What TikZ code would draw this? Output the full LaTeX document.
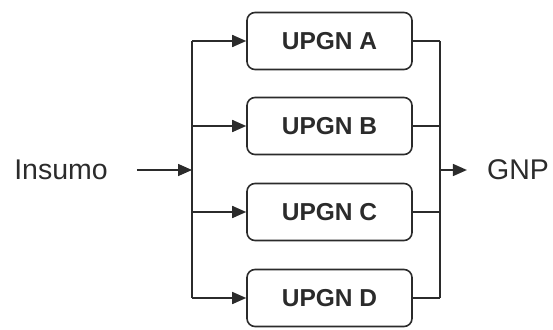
\documentclass[tikz,border=0pt]{standalone}
\usepackage{fontspec}
\setmainfont{Liberation Sans}
\usetikzlibrary{arrows.meta}
\definecolor{ink}{HTML}{2B2B2B}
\begin{document}
\begin{tikzpicture}[x=1pt,y=-1pt,
  unit/.style={draw=ink, line width=1.6pt, rounded corners=8pt, minimum width=165pt, minimum height=57pt, inner sep=0pt, text=ink, font=\fontsize{24.5}{28}\selectfont\bfseries},
  lbl/.style={inner sep=0pt, text=ink, font=\fontsize{28.5}{32}\selectfont},
  wire/.style={draw=ink, line width=1.6pt},
  arr/.style={wire, -{Triangle[length=14pt,width=12pt]}}]
\useasboundingbox (0,0) rectangle (553,329);
\node[lbl] (in) at (61,170) {Insumo};
\node[lbl] (out) at (518,170) {GNP};
\node[unit] (A) at (329.5,41) {UPGN A};
\node[unit] (B) at (329.5,126) {UPGN B};
\node[unit] (C) at (329.5,212) {UPGN C};
\node[unit] (D) at (329.5,298) {UPGN D};
\coordinate (jA) at (192,41);
\coordinate (jB) at (192,126);
\coordinate (jC) at (192,212);
\coordinate (jD) at (192,298);
\coordinate (jin) at (192,170);
\coordinate (kA) at (440,41);
\coordinate (kB) at (440,126);
\coordinate (kC) at (440,212);
\coordinate (kD) at (440,298);
\coordinate (kout) at (440,170);
\draw[wire] (jA) -- (jD);
\draw[wire] (kA) -- (kD);
\draw[arr, shorten <=29pt] (in.east) -- (jin);
\draw[arr] (jA) -- (A.west);
\draw[arr] (jB) -- (B.west);
\draw[arr] (jC) -- (C.west);
\draw[arr] (jD) -- (D.west);
\draw[wire] (A.east) -- (kA);
\draw[wire] (B.east) -- (kB);
\draw[wire] (C.east) -- (kC);
\draw[wire] (D.east) -- (kD);
\draw[arr, shorten >=20pt] (kout) -- (out.west);
\end{tikzpicture}
\end{document}
